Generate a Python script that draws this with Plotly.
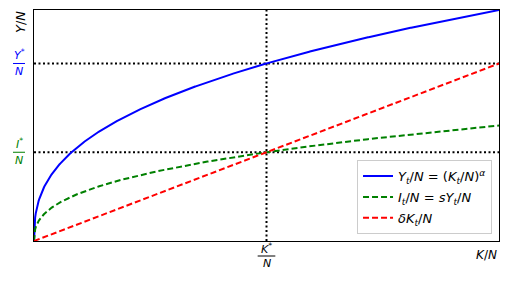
import numpy as np
import plotly.graph_objects as go

# Model parameters (Solow growth diagram)
alpha = 0.38
s = 0.5
delta = 0.5
k_star = (s / delta) ** (1 / (1 - alpha))
y_star = k_star ** alpha
i_star = s * y_star
k_max = 2 * k_star

k = np.linspace(0, k_max, 800)
y = k ** alpha
inv = s * y
dep = delta * k

names = ["<i>Y<sub>t</sub></i>/<i>N</i> = (<i>K<sub>t</sub></i>/<i>N</i>)<sup><i>α</i></sup>",
         "<i>I<sub>t</sub></i>/<i>N</i> = <i>sY<sub>t</sub></i>/<i>N</i>",
         "<i>δK<sub>t</sub></i>/<i>N</i>"]

FONT = "DejaVu Sans"
fig = go.Figure()
fig.add_trace(go.Scatter(x=k, y=y, mode="lines", line=dict(color="blue", width=2), name=names[0],
                         legendgroup="a"))
fig.add_trace(go.Scatter(x=k, y=inv, mode="lines", line=dict(color="green", width=2, dash="6px,3px"),
                         name=names[1], legendgroup="b"))
fig.add_trace(go.Scatter(x=k, y=dep, mode="lines", line=dict(color="red", width=2, dash="6px,3px"),
                         name=names[2], legendgroup="c"))

ymax = k_max ** alpha
# dotted guide lines
for yy in (y_star, i_star):
    fig.add_shape(type="line", xref="paper", yref="y", x0=0, x1=1, y0=yy, y1=yy,
                  line=dict(color="black", width=2, dash="2px,2.5px"), layer="below")
fig.add_shape(type="line", xref="x", yref="paper", x0=k_star, x1=k_star, y0=0, y1=1,
              line=dict(color="black", width=2, dash="2px,2.5px"), layer="below")

def yfrac(yv, num, color):
    fig.add_annotation(xref="paper", yref="y", x=0, y=yv, xshift=-15, yshift=9, text=num,
                       xanchor="center", yanchor="middle",
                       showarrow=False, font=dict(family=FONT, size=11, color=color))
    fig.add_annotation(xref="paper", yref="y", x=0, y=yv, xshift=-15, yshift=-8, text="<i>N</i>",
                       xanchor="center", yanchor="middle",
                       showarrow=False, font=dict(family=FONT, size=11, color=color))
    fig.add_shape(type="line", xref="paper", yref="y", xsizemode="pixel", xanchor=0,
                  x0=-21, x1=-9, y0=yv, y1=yv, line=dict(color=color, width=1))

yfrac(y_star, "<i>Y</i><sup>*</sup>", "blue")
yfrac(i_star, "<i>I</i><sup>*</sup>", "green")

# K*/N
fig.add_annotation(xref="x", yref="paper", x=k_star, y=0, yshift=-7, text="<i>K</i><sup>*</sup>",
                   xanchor="center", yanchor="middle",
                   showarrow=False, font=dict(family=FONT, size=11, color="black"))
fig.add_annotation(xref="x", yref="paper", x=k_star, y=0, yshift=-22, text="<i>N</i>",
                   xanchor="center", yanchor="middle",
                   showarrow=False, font=dict(family=FONT, size=11, color="black"))
fig.add_shape(type="line", xref="x", yref="paper", ysizemode="pixel", yanchor=0,
              x0=k_star - 0.038, x1=k_star + 0.038, y0=-15, y1=-15, line=dict(color="black", width=1))

# axis labels
fig.add_annotation(xref="paper", yref="paper", x=1, y=0, xanchor="right", yanchor="middle", yshift=-14,
                   text="<i>K</i>/<i>N</i>",
                   showarrow=False, font=dict(family=FONT, size=12, color="black"))
fig.add_annotation(xref="paper", yref="paper", x=0, y=1, xshift=-14, xanchor="center", yanchor="middle",
                   yshift=-12, textangle=-90,
                   text="<i>Y</i>/<i>N</i>", showarrow=False, font=dict(family=FONT, size=13, color="black"))

fig.update_layout(
    width=509, height=284,
    margin=dict(l=34, r=10, t=10, b=43),
    plot_bgcolor="white", paper_bgcolor="white",
    font=dict(family=FONT, size=13, color="black"),
    showlegend=True,
    legend=dict(x=0.985, y=0.03, xanchor="right", yanchor="bottom",
                bgcolor="rgba(255,255,255,0.85)", bordercolor="#cccccc", borderwidth=1,
                font=dict(family=FONT, size=13), tracegroupgap=1, itemwidth=30),
)
fig.update_xaxes(range=[0, k_max], showticklabels=False, ticks="", showgrid=False, zeroline=False,
                 showline=True, linecolor="black", linewidth=1, mirror=True)
fig.update_yaxes(range=[0, ymax], showticklabels=False, ticks="", showgrid=False, zeroline=False,
                 showline=True, linecolor="black", linewidth=1, mirror=True)

fig.write_html("out.html")
